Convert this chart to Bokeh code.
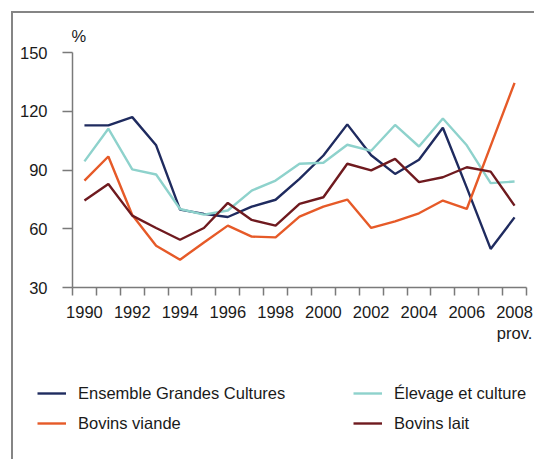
from bokeh.plotting import figure
from bokeh.layouts import column
from bokeh.models import Range1d, FixedTicker, Legend, LegendItem
from bokeh.embed import file_html
from bokeh.resources import INLINE

years = list(range(1990, 2009))
ensemble = [112.8, 112.8, 117.0, 102.6, 69.8, 67.6, 66.0, 71.3, 74.8, 85.5,
            97.4, 113.3, 97.5, 88.0, 95.2, 111.6, 81.0, 49.7, 65.8]
elevage = [94.4, 111.1, 90.3, 87.7, 70.1, 67.2, 69.3, 79.5, 84.6, 93.2,
           93.7, 102.9, 99.8, 113.0, 102.0, 116.3, 102.6, 83.3, 84.1]
viande = [84.6, 96.9, 67.0, 51.3, 44.2, 53.0, 61.6, 56.0, 55.6, 66.2,
          71.3, 74.9, 60.4, 63.8, 67.9, 74.4, 70.1, 102.3, 134.5]
lait = [74.4, 82.9, 66.7, 60.4, 54.4, 60.4, 73.2, 64.5, 61.6, 72.7,
        76.1, 93.2, 89.8, 95.7, 83.8, 86.3, 91.4, 89.2, 71.8]
label_years = [1990, 1992, 1994, 1996, 1998, 2000, 2002, 2004, 2006, 2008]
label_texts = ["1990", "1992", "1994", "1996", "1998", "2000", "2002",
               "2004", "2006", "2008\nprov."]
y_ticks = [30, 60, 90, 120, 150]
series_names = ["Ensemble Grandes Cultures", "Élevage et culture",
                "Bovins viande", "Bovins lait"]
unit_label = "%"

FONT = "Liberation Sans"
FS = "16.5px"
AX = "#7a7a7a"
TXT = "#1a1a1a"
BORDER = "#858585"

p = figure(width=521, height=344,
           x_range=Range1d(1989.5, 2008.5), y_range=Range1d(30, 150),
           output_backend="svg", toolbar_location=None,
           min_border_left=59, min_border_right=8,
           min_border_top=39, min_border_bottom=70)
p.outline_line_color = None
p.xgrid.visible = False
p.ygrid.visible = False

p.title.text = unit_label
p.title.align = "left"
p.title.offset = -1
p.title.standoff = 16
p.title.text_font = FONT
p.title.text_font_size = FS
p.title.text_font_style = "normal"
p.title.text_color = TXT

# y axis
ya = p.yaxis[0]
ya.ticker = FixedTicker(ticks=y_ticks, minor_ticks=[])
ya.axis_line_color = AX
ya.axis_line_width = 1.5
ya.major_tick_line_color = AX
ya.major_tick_line_width = 1.5
ya.major_tick_in = 0
ya.major_tick_out = 10
ya.minor_tick_line_color = None
ya.major_label_standoff = 15
ya.major_label_text_font = FONT
ya.major_label_text_font_size = FS
ya.major_label_text_color = TXT

# x axis: tick marks between categories (minor), labels at even years
xa = p.xaxis[0]
half = [y - 0.5 for y in years] + [years[-1] + 0.5]
xa.ticker = FixedTicker(ticks=label_years, minor_ticks=half)
xa.major_label_overrides = {y: t for y, t in zip(label_years, label_texts)}
xa.axis_line_color = AX
xa.axis_line_width = 1.5
xa.major_tick_line_color = None
xa.major_tick_in = 0
xa.major_tick_out = 0
xa.minor_tick_line_color = AX
xa.minor_tick_line_width = 1.5
xa.minor_tick_in = 0
xa.minor_tick_out = 8
xa.major_label_standoff = 7
xa.major_label_text_font = FONT
xa.major_label_text_font_size = FS
xa.major_label_text_color = TXT

colors = ["#1f2b5f", "#8ed2cc", "#e65a28", "#6f1a1f"]
data = [ensemble, elevage, viande, lait]
for vals, c in zip(data, colors):
    p.line(years, vals, line_color=c, line_width=2.4)

# legend panel (separate figure so the legend is not clipped by p's frame)
lf = figure(width=521, height=102, x_range=Range1d(0, 1),
            y_range=Range1d(0, 1), output_backend="svg",
            toolbar_location=None, x_axis_type=None, y_axis_type=None,
            min_border=0, min_border_left=0, min_border_right=0,
            min_border_top=0, min_border_bottom=0)
lf.outline_line_color = None
lf.xgrid.visible = False
lf.ygrid.visible = False
try:
    lf.frame_align = False
except Exception:
    pass
# the same series, outside lf's visible range: only their legend swatches show
lrs = [lf.line(years, vals, line_color=c, line_width=2.4)
       for vals, c in zip(data, colors)]

common = dict(orientation="vertical", glyph_width=29, glyph_height=20,
              label_height=20, label_standoff=12, spacing=10, padding=0,
              margin=0, border_line_alpha=0, background_fill_alpha=0,
              label_text_font=FONT, label_text_font_size=FS,
              label_text_color=TXT)
legA = Legend(items=[LegendItem(label=series_names[0], renderers=[lrs[0]]),
                     LegendItem(label=series_names[2], renderers=[lrs[2]])],
              location=(24, 26), **common)
legB = Legend(items=[LegendItem(label=series_names[1], renderers=[lrs[1]]),
                     LegendItem(label=series_names[3], renderers=[lrs[3]])],
              location=(340, 26), **common)
lf.add_layout(legA)
lf.add_layout(legB)

layout = column(p, lf, spacing=0)
layout.styles = {"border-left": "2px solid " + BORDER,
                 "border-top": "2px solid " + BORDER,
                 "margin-left": "11px", "margin-top": "11px"}

open("out.html", "w").write(file_html(layout, INLINE))
